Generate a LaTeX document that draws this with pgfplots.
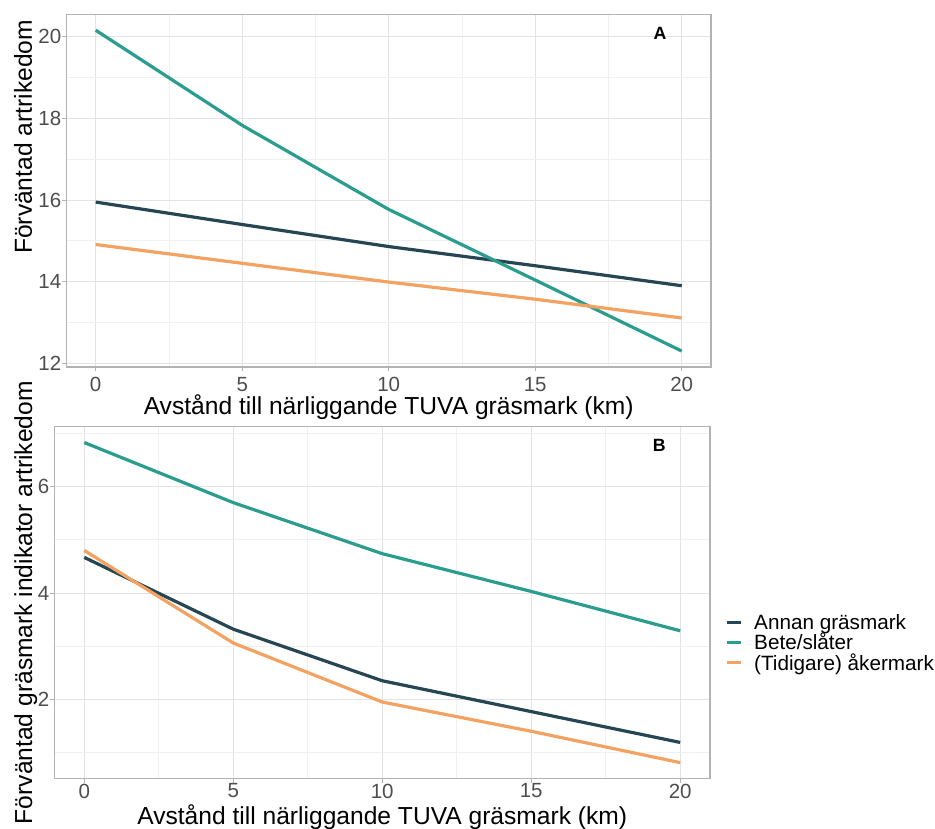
\documentclass[border=0pt]{standalone}
\usepackage{pgfplots}
\pgfplotsset{compat=1.18}
\usepackage{fontspec}
\setmainfont{Liberation Sans}
\definecolor{cDark}{HTML}{264653}
\definecolor{cGreen}{HTML}{2A9D8F}
\definecolor{cOrange}{HTML}{F4A261}
\definecolor{g70}{HTML}{B3B3B3}
\definecolor{g87}{HTML}{E3E3E3}
\definecolor{g93}{HTML}{F0F0F0}
\definecolor{g30}{HTML}{4D4D4D}
\pgfplotsset{myaxis/.style={
  scale only axis, xmin=-1, xmax=21,
  xtick={0,5,10,15,20}, minor xtick={2.5,7.5,12.5,17.5},
  grid=both,
  major grid style={g87, line width=1pt},
  minor grid style={g93, line width=0.7pt},
  axis line style={g70, line width=1.3pt},
  tick align=outside, major tick length=4pt, minor tick length=0pt,
  tick style={g70, line width=1pt},
  xtick pos=left, ytick pos=left,
  /pgf/number format/assume math mode=true,
  tick label style={font=\fontsize{20.5}{22}\selectfont, text=g30, inner sep=1pt},
  label style={font=\fontsize{24.6}{28}\selectfont},
  every axis plot/.append style={line width=3.2pt, no markers},
}}
\begin{document}
\begin{tikzpicture}[x=1pt,y=1pt]
\useasboundingbox (0,0) rectangle (935,829);
\begin{axis}[myaxis, at={(66.4pt,461.9pt)}, anchor=south west,
  width=644.6pt, height=352.9pt,
  ymin=11.907, ymax=20.553,
  ytick={12,14,16,18,20}, minor ytick={13,15,17,19},
  xticklabel style={yshift=-5pt},
  xlabel={Avstånd till närliggande TUVA gräsmark (km)},
  ylabel={Förväntad artrikedom},
  xlabel style={at={(rel axis cs:0.5,-0.1357)}, anchor=base},
  ylabel style={at={(rel axis cs:-0.0534,0.652)}, anchor=base},
]
\addplot[cDark] coordinates {(0,15.95) (5,15.40) (10,14.86) (15,14.39) (20,13.90)};
\addplot[cGreen] coordinates {(0,20.16) (5,17.83) (10,15.77) (15,14.04) (20,12.30)};
\addplot[cOrange] coordinates {(0,14.91) (5,14.45) (10,13.99) (15,13.57) (20,13.11)};
\node[font=\bfseries\fontsize{17.7}{20}\selectfont] at (axis cs:19.26,20.07) {A};
\end{axis}
\begin{axis}[myaxis, at={(54.5pt,50.4pt)}, anchor=south west,
  width=655.5pt, height=352pt,
  ymin=0.51, ymax=7.13,
  ytick={2,4,6}, minor ytick={1,3,5,7},
  xticklabel style={yshift=0pt},
  xlabel={Avstånd till närliggande TUVA gräsmark (km)},
  ylabel={Förväntad gräsmark indikator artrikedom},
  xlabel style={at={(rel axis cs:0.5,-0.1290)}, anchor=base},
  ylabel style={at={(rel axis cs:-0.0343,0.5)}, anchor=base},
  legend style={at={(rel axis cs:1.0183,0.385)}, anchor=west, draw=none, fill=none,
    font=\fontsize{20.7}{21}\selectfont, nodes={inner ysep=1.2pt, inner xsep=0pt},
    column sep=12pt},
  legend cell align=left,
  legend image code/.code={\draw[line width=3pt] (0pt,0pt) -- (14pt,0pt);},
]
\addplot[cDark] coordinates {(0,4.67) (5,3.32) (10,2.35) (15,1.77) (20,1.19)};
\addplot[cGreen] coordinates {(0,6.83) (5,5.70) (10,4.74) (15,4.03) (20,3.29)};
\addplot[cOrange] coordinates {(0,4.80) (5,3.06) (10,1.95) (15,1.40) (20,0.81)};
\legend{Annan gräsmark, Bete/slåter, (Tidigare) åkermark}
\node[font=\bfseries\fontsize{17.7}{20}\selectfont] at (axis cs:19.3,6.77) {B};
\end{axis}
\end{tikzpicture}
\end{document}
